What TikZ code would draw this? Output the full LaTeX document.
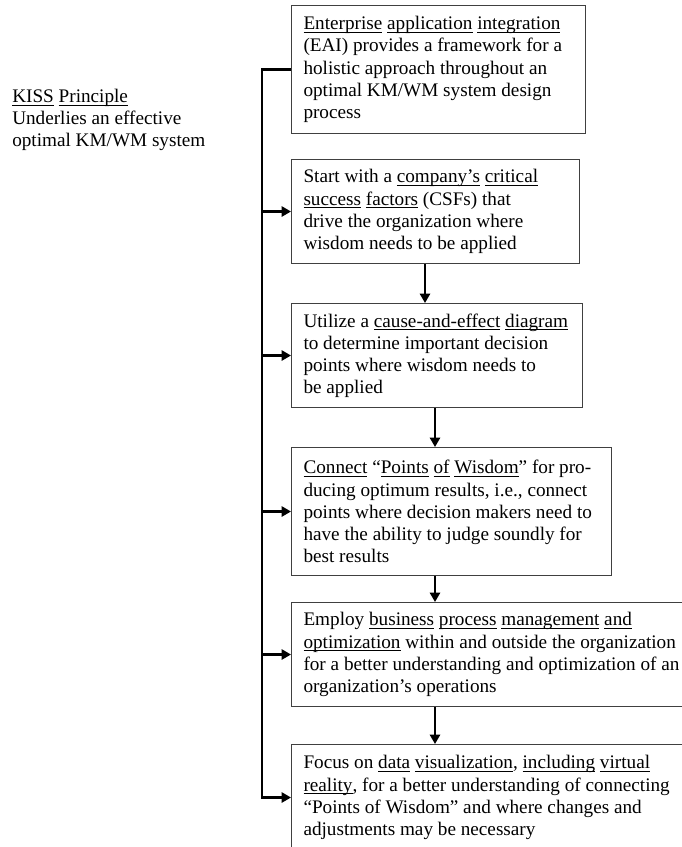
\documentclass[tikz,border=0pt]{standalone}
\usepackage{fontspec}
\setmainfont{Liberation Serif}
\usetikzlibrary{arrows.meta}

% underline one word at a fixed depth below the baseline
\newcommand{\ulw}[1]{\mbox{\setbox0=\hbox{#1}\rlap{\rule[-2.4pt]{\wd0}{0.6pt}}\box0}}
\newcommand{\bodyfont}{\fontsize{14.4pt}{16.6pt}\selectfont}
% one unbreakable line of a box text
\newcommand{\tl}[1]{\mbox{#1}}

\begin{document}
\begin{tikzpicture}[x=0.75pt, y=-0.75pt,
  % keep the font's own word spacing inside ragged text
  stepbox/.style={draw=black!75, line width=0.75pt, anchor=north west,
    align=left, inner xsep=9pt, inner ysep=0pt, font=\bodyfont,
    execute at begin node={\spaceskip=0pt\xspaceskip=0pt\relax}},
  link/.style={line width=1.6pt, black},
  arr/.style={link, -{Triangle[length=7pt, width=7.6pt]}}]

\useasboundingbox (0,0) rectangle (682,847);
\clip (0,0) rectangle (682,847);

% caption on the left
\node[anchor=west, align=left, inner sep=0pt, font=\bodyfont] (kiss) at (12,120)
  {\tl{\ulw{KISS} \ulw{Principle}}\\
   \tl{Underlies an effective}\\
   \tl{optimal KM/WM system}};

% the six steps
\node[stepbox, text width=202.5pt, minimum height=96pt] (b1) at (291,5)
  {\tl{\ulw{Enterprise} \ulw{application} \ulw{integration}}\\
   \tl{(EAI) provides a framework for a}\\
   \tl{holistic approach throughout an}\\
   \tl{optimal KM/WM system design}\\
   \tl{process}};

\node[stepbox, text width=198pt, minimum height=78pt] (b2) at (291,159)
  {\tl{Start with a \ulw{company’s} \ulw{critical}}\\
   \tl{\ulw{success} \ulw{factors} (CSFs) that}\\
   \tl{drive the organization where}\\
   \tl{wisdom needs to be applied}};

\node[stepbox, text width=200.25pt, minimum height=78pt] (b3) at (291,303)
  {\tl{Utilize a \ulw{cause-and-effect} \ulw{diagram}}\\
   \tl{to determine important decision}\\
   \tl{points where wisdom needs to}\\
   \tl{be applied}};

\node[stepbox, text width=222pt, minimum height=96pt] (b4) at (291,447)
  {\tl{\ulw{Connect} “\ulw{Points} \ulw{of} \ulw{Wisdom}” for pro-}\\
   \tl{ducing optimum results, i.e., connect}\\
   \tl{points where decision makers need to}\\
   \tl{have the ability to judge soundly for}\\
   \tl{best results}};

\node[stepbox, text width=288.75pt, minimum height=78pt] (b5) at (291,602)
  {\tl{Employ \ulw{business} \ulw{process} \ulw{management} \ulw{and}}\\
   \tl{\ulw{optimization} within and outside the organization}\\
   \tl{for a better understanding and optimization of an}\\
   \tl{organization’s operations}};

\node[stepbox, text width=288.75pt, minimum height=79.5pt] (b6) at (291,744)
  {\tl{Focus on \ulw{data} \ulw{visualization}, \ulw{including} \ulw{virtual}}\\
   \tl{\ulw{reality}, for a better understanding of connecting}\\
   \tl{“Points of Wisdom” and where changes and}\\
   \tl{adjustments may be necessary}};

% spine on the left feeding every step
\coordinate (spine) at (262,0);
\draw[arr] (b1.west) -| (spine |- b1.west) |- (b6.west);
\draw[arr] (spine |- b2.west) -- (b2.west);
\draw[arr] (spine |- b3.west) -- (b3.west);
\draw[arr] (spine |- b4.west) -- (b4.west);
\draw[arr] (spine |- b5.west) -- (b5.west);

% downward flow between steps
\coordinate (d1) at (425,0);
\coordinate (d2) at (435,0);
\draw[arr] (b2.south -| d1) -- (b3.north -| d1);
\draw[arr] (b3.south -| d2) -- (b4.north -| d2);
\draw[arr] (b4.south -| d2) -- (b5.north -| d2);
\draw[arr] (b5.south -| d2) -- (b6.north -| d2);

\end{tikzpicture}
\end{document}
